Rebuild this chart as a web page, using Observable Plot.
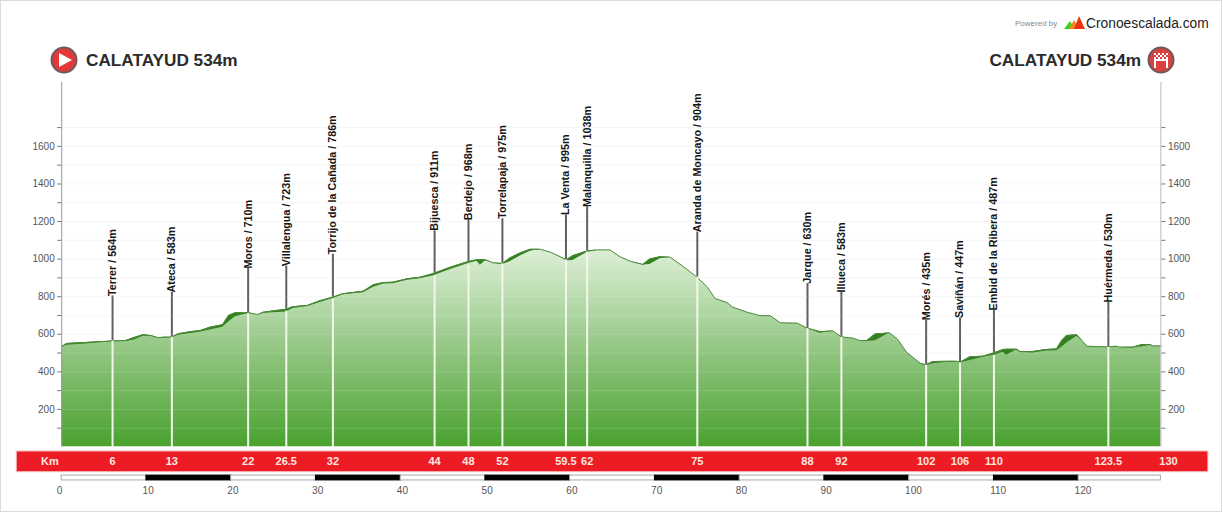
<!DOCTYPE html>
<html><head><meta charset="utf-8">
<script src="https://cdn.jsdelivr.net/npm/d3@7"></script>
<script src="https://cdn.jsdelivr.net/npm/@observablehq/plot@0.6"></script>
<style>
html,body{margin:0;padding:0;background:#fff;}
#page{position:relative;width:1223px;height:513px;overflow:hidden;font-family:"Liberation Sans",Arial,sans-serif;}
#page svg{display:block;}
#border{position:absolute;left:0;top:0;width:1220px;height:510px;border:1px solid #dcdcdc;pointer-events:none;}
.head{position:absolute;top:50px;font-weight:bold;font-size:17.2px;line-height:20px;color:#2b2b2b;white-space:nowrap;}
.abs{position:absolute;}
</style></head><body>
<div id="page">
<div id="chart"></div>
<div id="border"></div>
<svg class="abs" style="left:50px;top:46px" width="28" height="28" viewBox="0 0 28 28">
<circle cx="14" cy="14" r="12.5" fill="#e23a3a" stroke="#6e5a5a" stroke-width="2"/>
<path d="M9 7 L22 14 L9 21 Z" fill="#fff"/></svg>
<div class="head" style="left:86px">CALATAYUD 534m</div>
<div class="head" style="right:82px">CALATAYUD 534m</div>
<svg class="abs" style="left:1147px;top:46px" width="28" height="28" viewBox="0 0 28 28">
<circle cx="14" cy="14" r="12.5" fill="#d94040" stroke="#6e5a5a" stroke-width="2"/>
<g fill="#fff"><rect x="7" y="7" width="2" height="2"/><rect x="11" y="7" width="2" height="2"/><rect x="15" y="7" width="2" height="2"/><rect x="19" y="7" width="2" height="2"/>
<rect x="9" y="9" width="2" height="2"/><rect x="13" y="9" width="2" height="2"/><rect x="17" y="9" width="2" height="2"/>
<rect x="7" y="11" width="2" height="2"/><rect x="11" y="11" width="2" height="2"/><rect x="15" y="11" width="2" height="2"/><rect x="19" y="11" width="2" height="2"/>
<rect x="7" y="13" width="14" height="2"/><rect x="7" y="15" width="2" height="7"/><rect x="19" y="15" width="2" height="7"/></g></svg>
<div class="abs" style="left:1015px;top:19px;font-size:8px;line-height:9px;color:#888">Powered by</div>
<svg class="abs" style="left:1063px;top:15px" width="24" height="15" viewBox="0 0 24 15">
<path d="M1 14 L7 6 L12 14 Z" fill="#3fd01f"/><path d="M6 14 L11 5 L16 14 Z" fill="#f08a1e"/><path d="M11 14 L16 1 L22 14 Z" fill="#ee3311"/></svg>
<div class="abs" style="left:1086px;top:15px;font-size:13.8px;line-height:17px;color:#222">Cronoescalada.com</div>
</div>
<script>
// Profile: distance (km), elevation (m), dark climb shading thickness (m)
const kmPts = [0,0.6,2.8,6,7.5,8.5,9.6,10.5,11.4,12,13,13.8,15.2,16.4,17.5,19,19.7,20.5,22,23.2,23.8,26.5,27.3,29,30.5,32,33.2,35.6,36.8,38,39.1,40.8,42.3,43.8,45.8,48,49,49.4,50,50.9,52,52.9,54.1,55.3,56.5,57.7,58.8,59.6,60.3,62,63.2,64.7,65.9,67.1,68.6,69.4,70.6,71.8,73.3,75,76.2,77.1,78.5,79.2,80.9,82.4,83.6,84.8,86.8,88,89.5,91,92,93.4,94.2,95,96,97.7,98.6,99.7,101.3,102,102.8,105.6,106.1,107.2,108.7,110,111.1,111.5,112.7,113.1,114.6,116.2,117.4,118,118.6,119.8,120.4,121,123.3,124.5,124.8,126.4,127.5,128.4,128.8,129.7];
const elevPts = [534,551,556,564,566,582,598,593,582,584,585,603,614,620,637,651,700,715,714,705,717,733,747,753,779,797,816,829,864,875,877,895,903,922,956,987,997,997,996,980,976,1006,1033,1052,1052,1036,1013,996,1018,1043,1049,1049,1012,988,971,1001,1012,1010,962,903,850,790,769,744,717,699,699,661,659,632,614,618,586,579,566,566,602,607,575,504,446,437,455,456,453,480,483,500,519,520,520,508,508,519,522,566,593,597,566,536,533,536,531,531,545,545,538,538];
const shadePts = [0,10,8,3,5,14,8,3,0,3,0,8,10,8,14,14,35,22,3,0,5,14,10,5,10,6,6,8,14,8,8,8,8,12,12,10,8,30,5,0,6,20,16,10,0,0,0,5,25,8,0,0,0,0,2,30,10,0,0,0,0,0,0,0,0,0,0,0,0,0,8,0,0,0,0,5,37,0,0,0,0,5,12,0,5,20,5,12,15,32,2,5,8,8,10,35,40,8,0,0,0,0,0,3,12,5,0,0];
// Labelled points along the route
const places = ["Terrer","Ateca","Moros","Villalengua","Torrijo de la Cañada","Bijuesca","Berdejo","Torrelapaja","La Venta","Malanquilla","Aranda de Moncayo","Jarque","Illueca","Morés","Saviñán","Embid de la Ribera","Huérmeda"];
const placeKm = [6,13,22,26.5,32,44,48,52,59.5,62,75,88,92,102,106,110,123.5];
const placeElev = [564,583,710,723,786,911,968,975,995,1038,904,630,583,435,447,487,530];
const kmLabels = ["6","13","22","26.5","32","44","48","52","59.5","62","75","88","92","102","106","110","123.5","130"];
const kmLabelPos = [...placeKm,130.6];
const elevTicks = d3.range(100,1800,100);
const scaleStops = d3.range(0,130,10);
const routeEnd = 129.7;

const profile = kmPts.map((k,i)=>({km:k,elev:elevPts[i],shade:elevPts[i]-shadePts[i]}));
const stops = places.map((p,i)=>({label:`${p} / ${placeElev[i]}m`,km:placeKm[i],elev:placeElev[i]}));
const segments = scaleStops.map((s,i)=>({a:s,b:Math.min(s+10,routeEnd),black:i%2===1}));
const kmText = kmLabels.map((t,i)=>({t,km:kmLabelPos[i]}));
const FONT = '"Liberation Sans",Arial,sans-serif';
const tickText = d => d%200 ? "" : String(d);

const defs = () => {
  const ns="http://www.w3.org/2000/svg";
  const d=document.createElementNS(ns,"defs");
  const g=document.createElementNS(ns,"linearGradient");
  g.setAttribute("id","hill");g.setAttribute("x1",0);g.setAttribute("y1",0);g.setAttribute("x2",0);g.setAttribute("y2",1);
  [[0,"#dcefd6"],[.3,"#b2d8a6"],[.6,"#85bf74"],[1,"#4aa12d"]].forEach(([o,c])=>{
    const s=document.createElementNS(ns,"stop");s.setAttribute("offset",o);s.setAttribute("stop-color",c);g.appendChild(s);});
  d.appendChild(g);return d;
};

const chart = Plot.plot({
  width:1223,height:513,marginTop:82,marginBottom:66.5,marginLeft:61.2,marginRight:62.6,
  style:{fontFamily:FONT,background:"transparent"},
  x:{domain:[0,routeEnd],range:[61.2,1160.4],axis:null},
  y:{domain:[0,1940],range:[446.5,82],axis:null},
  marks:[
    defs,
    Plot.ruleY(elevTicks,{stroke:"#f6f6f6",strokeWidth:1}),
    Plot.ruleX(stops,{x:"km",y1:"elev",y2:d=>d.elev+240,stroke:"#606060",strokeWidth:2}),
    Plot.areaY(profile,{x:"km",y1:0,y2:"elev",fill:"url(#hill)",curve:"linear"}),
    Plot.ruleY(elevTicks,{x1:0,x2:routeEnd,stroke:"#fff",strokeOpacity:d=>d<1000?.14:0,strokeWidth:1}),
    Plot.areaY(profile,{x:"km",y1:"shade",y2:"elev",fill:"#33801f"}),
    Plot.lineY(profile,{x:"km",y:"elev",stroke:"#4d8a3c",strokeWidth:1}),
    Plot.ruleX(stops,{x:"km",y1:0,y2:"elev",stroke:"#f3f7ea",strokeWidth:2}),
    Plot.text(stops,{x:"km",y:"elev",text:"label",rotate:-90,textAnchor:"start",lineAnchor:"middle",dy:-45,fontSize:10.75,fontWeight:"bold",fill:"#151515"}),
    Plot.ruleX([0],{y1:0,y2:1940,stroke:"#999",strokeWidth:1}),
    Plot.ruleX([routeEnd],{y1:0,y2:1940,stroke:"#bbb",strokeWidth:1}),
    Plot.ruleY([0],{x1:0,x2:routeEnd,stroke:"#fff",strokeWidth:1}),
    Plot.axisY(elevTicks,{anchor:"left",tickSize:4,tickPadding:3,tickFormat:tickText,fontSize:10,stroke:"#777",label:null,fill:"#555"}),
    Plot.axisY(elevTicks,{anchor:"right",tickSize:4,tickPadding:3,tickFormat:tickText,fontSize:10,stroke:"#777",label:null,fill:"#555"}),
    Plot.rect([{a:-5.3,b:135.3}],{x1:"a",x2:"b",y1:-24,y2:-134,fill:"#ed1c24",stroke:"#f7b9bb",strokeWidth:1}),
    Plot.text(kmText,{x:"km",y:-77,text:"t",fill:"#fde8e0",fontWeight:"bold",fontSize:11}),
    Plot.text(["Km"],{x:-1.4,y:-77,text:d=>d,fill:"#fde8e0",fontWeight:"bold",fontSize:11}),
    Plot.rect(segments,{x1:"a",x2:"b",y1:-152,y2:-178,fill:d=>d.black?"#000":"#fff",stroke:d=>d.black?"#000":"#aaa",strokeWidth:1}),
    Plot.text(scaleStops,{x:d=>d===0?-0.25:d+(d>=100?.5:.2),y:-232,text:d=>String(d),fontSize:10,fill:"#555"})
  ]
});
document.getElementById("chart").appendChild(chart);
</script>
</body></html>
